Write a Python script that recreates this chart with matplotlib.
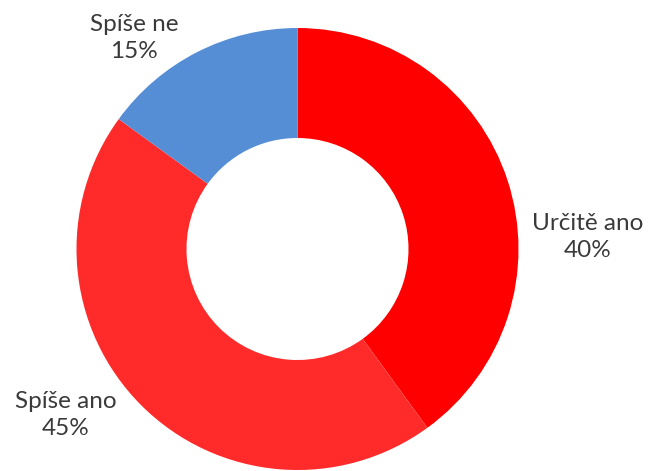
import matplotlib.pyplot as plt

categories = ['Určitě ano', 'Spíše ano', 'Spíše ne']
shares = [40, 45, 15]
colors = ['#FF0000', '#FF2B2B', '#558ED5']
label_pos = [(588, 234), (66, 56), (134, 433)]

W, H = 648, 471
fig = plt.figure(figsize=(W / 100, H / 100), dpi=100)
ax = fig.add_axes([0, 0, 1, 1])

ax.pie(shares, colors=colors, startangle=90, counterclock=False,
       center=(297.5, 222), radius=221, frame=True,
       wedgeprops=dict(width=110, linewidth=0))
ax.set_xlim(0, W)
ax.set_ylim(0, H)
ax.set_aspect('equal')
ax.axis('off')

for cat, val, (x, y) in zip(categories, shares, label_pos):
    ax.text(x, y, f'{cat}\n{val}%', ha='center', va='center',
            fontsize=17.5, family=['Lato', 'DejaVu Sans'], color='#3a3a3a',
            linespacing=1.3)

fig.savefig('out.png', dpi=100)
